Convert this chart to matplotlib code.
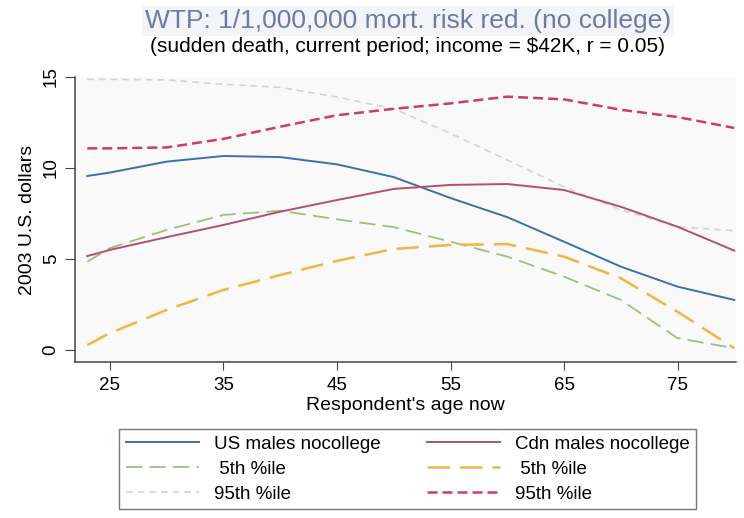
import numpy as np
import matplotlib
matplotlib.use("Agg")
import matplotlib.pyplot as plt

plt.rcParams['font.family'] = ['Liberation Sans', 'DejaVu Sans']

ages = [23, 25, 30, 35, 40, 45, 50, 55, 60, 65, 70, 75, 80]
us_males = [9.56, 9.75, 10.35, 10.66, 10.6, 10.2, 9.5, 8.35, 7.3, 5.95, 4.58, 3.48, 2.75]
us_p5 = [4.85, 5.6, 6.6, 7.42, 7.65, 7.18, 6.75, 5.95, 5.13, 4.03, 2.75, 0.65, 0.1]
us_p95 = [14.87, 14.87, 14.84, 14.6, 14.43, 13.9, 13.25, 11.9, 10.44, 8.97, 7.7, 6.77, 6.55]
cdn_males = [5.16, 5.5, 6.2, 6.87, 7.6, 8.24, 8.85, 9.07, 9.12, 8.79, 7.87, 6.77, 5.46]
cdn_p5 = [0.27, 0.93, 2.2, 3.3, 4.12, 4.9, 5.55, 5.77, 5.82, 5.13, 3.94, 2.1, 0.1]
cdn_p95 = [11.08, 11.08, 11.13, 11.6, 12.27, 12.9, 13.25, 13.55, 13.92, 13.77, 13.2, 12.8, 12.2]

xticks = [25, 35, 45, 55, 65, 75]
yticks = [0, 5, 10, 15]

fig = plt.figure(figsize=(7.44, 5.18), dpi=100)
ax = fig.add_axes([75/744, 1-362/518, (736-75)/744, (362-77)/518])
ax.set_facecolor("#f9f9f9")

l1, = ax.plot(ages, us_males, color="#3c6fae", lw=1.4, label="US males nocollege")
l2, = ax.plot(ages, us_p5, color="#9dbf82", lw=1.3, dashes=(9, 4), label=" 5th %ile")
l3, = ax.plot(ages, us_p95, color="#d4d4d4", lw=1.2, dashes=(4, 3), label="95th %ile")
l4, = ax.plot(ages, cdn_males, color="#b3506c", lw=1.4, label="Cdn males nocollege")
l5, = ax.plot(ages, cdn_p5, color="#f2b445", lw=1.8, dashes=(9, 4), label=" 5th %ile")
l6, = ax.plot(ages, cdn_p95, color="#c93d68", lw=1.8, dashes=(4, 2), label="95th %ile")

ax.set_xlim(21.92, 80.15)
ax.set_ylim(-0.66, 15.0)
ax.set_xticks(xticks)
ax.set_yticks(yticks)
ax.tick_params(axis="x", labelsize=13.5, length=6, color="#444", pad=5)
ax.tick_params(axis="y", labelsize=13.5, length=7, color="#444", labelrotation=90, pad=4)
for lab in ax.get_yticklabels():
    lab.set_va("center")
for s in ["top", "right"]:
    ax.spines[s].set_visible(False)
for s in ["left", "bottom"]:
    ax.spines[s].set_color("#444")
    ax.spines[s].set_linewidth(1.1)

ax.set_xlabel("Respondent's age now", fontsize=14, labelpad=2)
ax.set_ylabel("2003 U.S. dollars", fontsize=14, labelpad=5)

fig.text(408/744, 1-21/518, "WTP: 1/1,000,000 mort. risk red. (no college)",
         ha="center", va="center", fontsize=19, color="#6d7aa3",
         bbox=dict(facecolor="#f3f4f8", edgecolor="none", pad=2))
fig.text(408/744, 1-47/518, "(sudden death, current period; income = $42K, r = 0.05)",
         ha="center", va="center", fontsize=15)

leg = fig.legend(handles=[l1, l2, l3, l4, l5, l6], ncol=2, mode="expand",
                 loc="center", bbox_to_anchor=(119/744, 5/518, (696-119)/744, 88/518),
                 borderaxespad=0, fontsize=13.5, handlelength=3.9, handletextpad=0.8,
                 labelspacing=0.42, borderpad=0.35, frameon=True, fancybox=False)
leg.get_frame().set_edgecolor("#555")
leg.get_frame().set_linewidth(1.0)

fig.savefig("out.png", dpi=100)
